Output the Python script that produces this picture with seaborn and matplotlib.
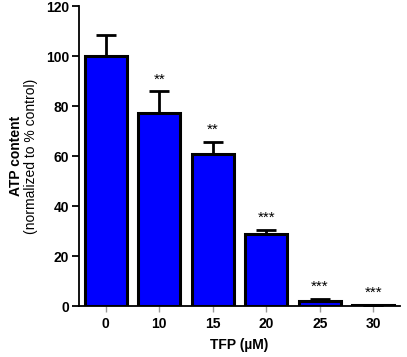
import matplotlib
matplotlib.use("Agg")
import matplotlib.pyplot as plt
import seaborn as sns
import numpy as np
import pandas as pd

doses = ["0", "10", "15", "20", "25", "30"]
atp = [100.0, 77.4, 60.8, 29.0, 2.0, 0.3]
sem = [8.3, 8.4, 5.0, 1.4, 0.7, 0.2]
stars = ["", "**", "**", "***", "***", "***"]

sns.set_style("ticks")
plt.rcParams['font.family'] = ['Liberation Sans', 'DejaVu Sans']
plt.rcParams['text.color'] = 'black'
plt.rcParams['axes.labelcolor'] = 'black'
plt.rcParams['xtick.labelcolor'] = 'black'
plt.rcParams['ytick.labelcolor'] = 'black'

df = pd.DataFrame({"dose": doses, "atp": atp})
fig = plt.figure(figsize=(4.07, 3.57), dpi=100)
ax = fig.add_axes([79/407, 1-306/357, 321/407, 300/357])

sns.barplot(data=df, x="dose", y="atp", color="#0000ff", saturation=1,
            width=0.78, edgecolor="black", linewidth=2.2, errorbar=None, ax=ax, zorder=3)
xs = np.arange(len(doses))
ax.errorbar(xs, atp, yerr=[np.zeros(len(sem)), sem], fmt="none", ecolor="black",
            elinewidth=2, capsize=7, capthick=2, zorder=2)
for x, v, s, st in zip(xs, atp, sem, stars):
    if st:
        ax.text(x, v + s + 2.0, st, ha="center", va="bottom", fontsize=11, color="black")

ax.set_xlim(-0.5, 5.5)
ax.set_ylim(0, 120)
ax.set_yticks([0, 20, 40, 60, 80, 100, 120])
for sp in ["top", "right"]:
    ax.spines[sp].set_visible(False)
for sp in ["left", "bottom"]:
    ax.spines[sp].set_linewidth(1.3)
    ax.spines[sp].set_color("black")
ax.tick_params(axis="y", direction="out", length=5, width=1.3, color="black", labelsize=10, pad=2)
ax.tick_params(axis="x", direction="out", length=4, width=1, color="#999999", labelsize=10, pad=4)
for lab in ax.get_xticklabels() + ax.get_yticklabels():
    lab.set_fontweight("bold")
    lab.set_color("black")
ax.set_xlabel("TFP (µM)", fontsize=10, fontweight="bold", labelpad=5, color="black")
ax.set_ylabel("")
fig.text(16/407, 1-156/357, "ATP content", rotation=90, ha="center", va="center",
         fontsize=10, fontweight="bold", color="black")
fig.text(31/407, 1-156/357, "(normalized to % control)", rotation=90, ha="center", va="center",
         fontsize=10, color="black")
fig.savefig("out.png", dpi=100)
